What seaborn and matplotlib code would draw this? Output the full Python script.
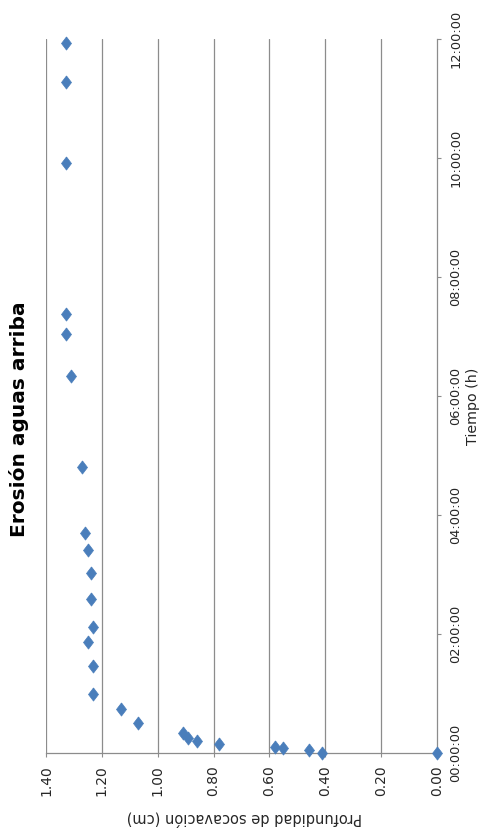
import matplotlib
matplotlib.use("Agg")
import matplotlib.pyplot as plt
import seaborn as sns
import pandas as pd

# Scour depth (cm) measured upstream against elapsed time (hours)
tiempo_h = [0.000, 0.005, 0.050, 0.078, 0.100, 0.157, 0.210, 0.250, 0.330,
            0.510, 0.745, 1.000, 1.460, 1.870, 2.110, 2.580, 3.030, 3.410,
            3.700, 4.800, 6.330, 7.050, 7.370, 9.920, 11.280, 11.940]
profundidad_cm = [0.00, 0.41, 0.46, 0.55, 0.58, 0.78, 0.86, 0.89, 0.91,
                  1.07, 1.13, 1.23, 1.23, 1.25, 1.23, 1.24, 1.24, 1.25,
                  1.26, 1.27, 1.31, 1.33, 1.33, 1.33, 1.33, 1.33]

depth_ticks = [0.0, 0.2, 0.4, 0.6, 0.8, 1.0, 1.2, 1.4]
depth_labels = ["0.00", "0.20", "0.40", "0.60", "0.80", "1.00", "1.20", "1.40"]
time_ticks = [0, 2, 4, 6, 8, 10, 12]
time_labels = ["00:00:00", "02:00:00", "04:00:00", "06:00:00",
               "08:00:00", "10:00:00", "12:00:00"]

titulo = "Erosión aguas arriba"
eje_tiempo = "Tiempo (h)"
eje_prof = "Profundidad de socavación (cm)"

df = pd.DataFrame({"tiempo": tiempo_h, "profundidad": profundidad_cm})

sns.set_style("white")
plt.rcParams["font.family"] = ["DejaVu Sans"]

grid_c = "#8c8c8c"
text_c = "#262626"
blue = "#4A7EBB"

fig = plt.figure(figsize=(4.84, 8.33), dpi=100)
ax = fig.add_axes([46 / 484, 1 - 753 / 833, (437 - 46) / 484, (753 - 39) / 833])

# The chart is laid out turned a quarter turn: depth runs right-to-left,
# time runs bottom-to-top along the right-hand axis.
diamond = [(0, 1), (0.76, 0), (0, -1), (-0.76, 0), (0, 1)]
sns.scatterplot(data=df, x="profundidad", y="tiempo", ax=ax, marker=diamond,
                s=90, color=blue, edgecolor=blue, linewidth=0.5, zorder=3,
                clip_on=False)

ax.set_xlim(1.4, 0.0)
ax.set_ylim(0, 12)

ax.set_xticks(depth_ticks)
ax.set_xticklabels(depth_labels, rotation=90, fontsize=10, color=text_c)
ax.set_yticks(time_ticks)
ax.set_yticklabels(time_labels, rotation=90, fontsize=9.3, color=text_c,
                   va="center")
ax.yaxis.tick_right()

ax.tick_params(axis="x", direction="out", length=3, width=0.8, color=grid_c,
               pad=6, bottom=True)
ax.tick_params(axis="y", direction="out", length=3, width=0.8, color=grid_c,
               pad=6, right=True, left=False)

# Depth gridlines (vertical here)
for v in depth_ticks[1:]:
    ax.axvline(v, color=grid_c, lw=0.9, zorder=1)

for side in ["top", "left"]:
    ax.spines[side].set_visible(False)
for side in ["right", "bottom"]:
    ax.spines[side].set_color(grid_c)
    ax.spines[side].set_linewidth(0.9)

ax.set_xlabel("")
ax.set_ylabel("")

fig.text(19 / 484, 1 - 419 / 833, titulo, rotation=90, fontsize=14.5,
         fontweight="bold", color="black", ha="center", va="center")
fig.text(473 / 484, 1 - 406 / 833, eje_tiempo, rotation=90, fontsize=10.3,
         color=text_c, ha="center", va="center")
fig.text(244 / 484, 1 - 818 / 833, eje_prof, rotation=180, fontsize=10.5,
         color=text_c, ha="center", va="center")

fig.savefig("out.png", dpi=100, facecolor="white")
